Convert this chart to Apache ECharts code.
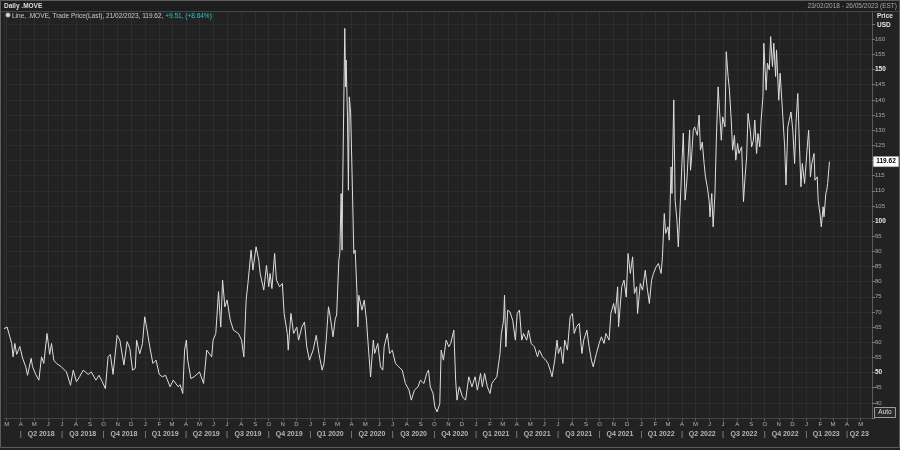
<!DOCTYPE html>
<html><head><meta charset="utf-8">
<script src="https://cdn.jsdelivr.net/npm/echarts@6/dist/echarts.min.js"></script>
<style>html,body{margin:0;padding:0;background:#222;}#c{width:900px;height:450px;}</style>
</head><body><div id="c"></div>
<script>
const dates = ['2018-02-23','2018-03-02','2018-03-12','2018-03-15','2018-03-19','2018-03-23','2018-03-30','2018-04-05','2018-04-12','2018-04-16','2018-04-24','2018-04-27','2018-05-04','2018-05-11','2018-05-17','2018-05-22','2018-05-29','2018-06-04','2018-06-08','2018-06-13','2018-06-19','2018-06-29','2018-07-11','2018-07-20','2018-07-26','2018-08-02','2018-08-09','2018-08-17','2018-08-28','2018-09-04','2018-09-14','2018-09-21','2018-09-28','2018-10-05','2018-10-11','2018-10-16','2018-10-22','2018-10-31','2018-11-06','2018-11-15','2018-11-22','2018-11-28','2018-12-04','2018-12-10','2018-12-13','2018-12-20','2018-12-26','2018-12-31','2019-01-04','2019-01-11','2019-01-18','2019-01-25','2019-02-01','2019-02-08','2019-02-15','2019-02-25','2019-03-04','2019-03-15','2019-03-19','2019-03-25','2019-03-29','2019-04-02','2019-04-05','2019-04-12','2019-04-19','2019-05-01','2019-05-10','2019-05-17','2019-05-23','2019-05-28','2019-05-31','2019-06-06','2019-06-12','2019-06-17','2019-06-21','2019-06-26','2019-07-01','2019-07-08','2019-07-15','2019-07-26','2019-08-02','2019-08-07','2019-08-12','2019-08-16','2019-08-23','2019-08-27','2019-09-03','2019-09-09','2019-09-12','2019-09-20','2019-09-26','2019-10-01','2019-10-04','2019-10-08','2019-10-14','2019-10-18','2019-10-25','2019-10-31','2019-11-04','2019-11-11','2019-11-13','2019-11-19','2019-11-25','2019-12-02','2019-12-06','2019-12-13','2019-12-19','2019-12-24','2019-12-30','2020-01-07','2020-01-14','2020-01-20','2020-01-27','2020-01-31','2020-02-05','2020-02-10','2020-02-14','2020-02-20','2020-02-25','2020-02-28','2020-03-04','2020-03-06','2020-03-09','2020-03-11','2020-03-12','2020-03-17','2020-03-19','2020-03-20','2020-03-23','2020-03-25','2020-03-27','2020-03-30','2020-04-02','2020-04-06','2020-04-09','2020-04-13','2020-04-15','2020-04-17','2020-04-24','2020-04-29','2020-05-04','2020-05-07','2020-05-13','2020-05-19','2020-05-22','2020-05-29','2020-06-04','2020-06-09','2020-06-12','2020-06-19','2020-06-24','2020-06-30','2020-07-07','2020-07-14','2020-07-22','2020-07-29','2020-08-06','2020-08-11','2020-08-18','2020-08-26','2020-08-31','2020-09-08','2020-09-14','2020-09-18','2020-09-22','2020-09-28','2020-10-02','2020-10-07','2020-10-13','2020-10-16','2020-10-21','2020-10-27','2020-11-02','2020-11-06','2020-11-13','2020-11-17','2020-11-20','2020-11-25','2020-12-02','2020-12-09','2020-12-16','2020-12-23','2020-12-30','2021-01-04','2021-01-11','2021-01-15','2021-01-20','2021-01-26','2021-02-01','2021-02-05','2021-02-10','2021-02-16','2021-02-23','2021-02-26','2021-03-03','2021-03-05','2021-03-08','2021-03-12','2021-03-17','2021-03-23','2021-03-29','2021-04-02','2021-04-07','2021-04-12','2021-04-16','2021-04-23','2021-04-27','2021-05-03','2021-05-10','2021-05-17','2021-05-21','2021-05-28','2021-06-04','2021-06-09','2021-06-14','2021-06-18','2021-06-24','2021-06-29','2021-07-02','2021-07-07','2021-07-12','2021-07-16','2021-07-22','2021-07-28','2021-08-02','2021-08-06','2021-08-11','2021-08-17','2021-08-23','2021-08-27','2021-09-03','2021-09-08','2021-09-13','2021-09-17','2021-09-24','2021-09-30','2021-10-05','2021-10-11','2021-10-15','2021-10-22','2021-10-26','2021-11-01','2021-11-05','2021-11-10','2021-11-12','2021-11-19','2021-11-24','2021-11-29','2021-12-03','2021-12-08','2021-12-13','2021-12-17','2021-12-22','2021-12-24','2021-12-30','2022-01-04','2022-01-10','2022-01-14','2022-01-19','2022-01-24','2022-01-28','2022-02-03','2022-02-08','2022-02-14','2022-02-17','2022-02-21','2022-02-24','2022-03-01','2022-03-04','2022-03-08','2022-03-10','2022-03-14','2022-03-17','2022-03-21','2022-03-24','2022-03-28','2022-04-01','2022-04-04','2022-04-08','2022-04-12','2022-04-18','2022-04-20','2022-04-22','2022-04-26','2022-04-29','2022-05-05','2022-05-09','2022-05-12','2022-05-16','2022-05-20','2022-05-23','2022-05-27','2022-05-31','2022-06-02','2022-06-06','2022-06-09','2022-06-13','2022-06-16','2022-06-20','2022-06-23','2022-06-27','2022-06-30','2022-07-05','2022-07-08','2022-07-12','2022-07-15','2022-07-19','2022-07-22','2022-07-26','2022-07-29','2022-08-02','2022-08-05','2022-08-11','2022-08-15','2022-08-18','2022-08-22','2022-08-25','2022-08-30','2022-09-02','2022-09-06','2022-09-09','2022-09-13','2022-09-16','2022-09-20','2022-09-23','2022-09-27','2022-09-29','2022-10-04','2022-10-07','2022-10-11','2022-10-14','2022-10-18','2022-10-21','2022-10-25','2022-10-27','2022-11-01','2022-11-04','2022-11-10','2022-11-14','2022-11-17','2022-11-21','2022-11-25','2022-11-28','2022-12-02','2022-12-06','2022-12-09','2022-12-13','2022-12-16','2022-12-20','2022-12-23','2022-12-28','2023-01-03','2023-01-06','2023-01-10','2023-01-13','2023-01-18','2023-01-20','2023-01-25','2023-01-27','2023-01-31','2023-02-03','2023-02-07','2023-02-09','2023-02-13','2023-02-15','2023-02-17','2023-02-21'];
const values = [64.5,65,59.6,55.2,59.6,56,58.6,54.8,51.9,49.1,54.7,52,49.4,47.5,55.2,53,62.9,56,59.6,54.1,53,52,50.2,45.8,50.8,47,48.6,50.8,49.4,50.2,47.5,49.1,47,44.7,55.2,56,49.4,62.3,60.7,52.5,60.2,58,50.8,51.4,60.7,56.2,59.6,68.4,65,58.6,53,54.1,49.4,48.6,49.1,45.3,47.5,45.3,46,43.1,57.4,60.7,54.1,48,48.6,50.2,46.4,57.4,56.2,55.2,60.7,62.9,76.7,65,80.5,71.7,73.9,67.3,64,62.9,60.7,55.2,73.9,79.4,90.4,83.8,91.5,87.1,82.7,77.2,85.4,78.3,82.7,77.7,89.3,80.5,78.3,79.4,69.5,62.9,57.4,69.5,62.9,65,60.7,65,66.7,58.5,54.1,57.4,62.3,56.2,50.8,53,60.7,71.7,68.4,61.8,67.8,69,87.1,89.3,109.1,90.4,106.9,163.6,144.3,153.2,134.4,110.2,141,135.7,116.8,89.3,90.4,76.1,65.1,75.5,70.6,73.9,67.3,60.7,48.6,60.7,56.3,59.6,51.9,50.8,58.5,62.9,56.3,57.4,53,51.9,50.8,46.4,44.2,40.9,44.2,45.3,47.5,46.4,49.7,50.8,45.3,43.1,38.7,37,39.8,57.4,54.1,60.7,58.5,59.6,64,47.5,40.9,45.3,42,40.9,48.6,45.3,48.6,44.2,49.7,45.3,49.7,45.3,43.1,46.4,47.5,48.6,56.3,62.9,67.3,75.5,58.5,70.6,70,67.3,60.7,69.5,70.6,60.7,62.9,60.7,64,59.6,58.5,55.2,57.4,55.2,54.1,53,50.8,48.6,54.1,60.7,56.3,58.5,53,60.7,57.4,68.4,69.5,62.9,65.1,66.2,56.3,60.7,64,58.5,54.1,51.9,56.3,59.6,61.8,59.6,62.9,60.7,69.5,72.8,69.5,78.3,65.1,78.3,80.5,74.9,89.3,82.7,88.2,76.1,78.3,69.5,79.4,77.2,83.8,78.3,72.8,80.5,82.7,84.9,86,82.7,88.2,102.5,95.9,98.1,93.7,117.9,109.1,140,106.9,100.3,91.5,104.7,119,129,106.9,113.5,130.1,116.8,120.1,130,131.1,128.3,135,123.4,126.1,119,114.6,111.3,106.9,101.4,109.1,98.1,109.1,126.7,144.3,136.6,126.7,134.4,131.1,155.9,147.7,143.2,133.3,123.4,128.3,120.1,125.6,122.3,124.5,106.4,113.5,121.2,135.5,130,124.5,126.7,133.3,122.3,128.9,124.5,133.3,141,158.7,143.2,152.1,149.9,160.9,151,158.7,147.7,156.5,139.9,148.8,134.4,124.5,111.9,131.1,131.1,136,130,119,132.2,142.1,127.8,111.3,119,112.4,124.5,130,114.6,119,122.3,113.5,114.6,106.9,102.5,98.1,104.7,101.4,109.1,110.2,112.4,119.62];
const monthLetters = ['J','F','M','A','M','J','J','A','S','O','N','D'];
const quarterLabels = ['Q2 2018','Q3 2018','Q4 2018','Q1 2019','Q2 2019','Q3 2019','Q4 2019','Q1 2020','Q2 2020','Q3 2020','Q4 2020','Q1 2021','Q2 2021','Q3 2021','Q4 2021','Q1 2022','Q2 2022','Q3 2022','Q4 2022','Q1 2023','Q2 23'];
const quarterMids = ['2018-05-16','2018-08-16','2018-11-15','2019-02-14','2019-05-16','2019-08-16','2019-11-15','2020-02-14','2020-05-16','2020-08-16','2020-11-15','2021-02-14','2021-05-16','2021-08-16','2021-11-15','2022-02-14','2022-05-16','2022-08-16','2022-11-15','2023-02-14','2023-04-28'];
const quarterStarts = ['2018-04-01','2018-07-01','2018-10-01','2019-01-01','2019-04-01','2019-07-01','2019-10-01','2020-01-01','2020-04-01','2020-07-01','2020-10-01','2021-01-01','2021-04-01','2021-07-01','2021-10-01','2022-01-01','2022-04-01','2022-07-01','2022-10-01','2023-01-01','2023-04-01'];
const axisStart = '2018-02-23', axisEnd = '2023-05-26';
const lastDate = '21/02/2023', lastValue = 119.62, change = '+9.51', changePct = '(+8.64%)';

const FONT = '"Liberation Sans", Arial, sans-serif';
const chart = echarts.init(document.getElementById('c'), null, {renderer:'canvas'});
const lineData = dates.map((d,i)=>[d, values[i]]);
const tMin = +echarts.time.parse(axisStart), tMax = +echarts.time.parse(axisEnd);

const option = {
  backgroundColor:'#222222',
  animation:false,
  textStyle:{fontFamily:FONT},
  grid:[
    {left:4, right:28, top:9, bottom:32, containLabel:false},
    {left:4, right:28, top:428, height:12, containLabel:false}
  ],
  xAxis:[
    {type:'time', gridIndex:0, min:tMin, max:tMax,
     minInterval:28*864e5, maxInterval:31*864e5,
     splitLine:{show:true, lineStyle:{color:'#2d2d2d', width:1}},
     axisLine:{show:true, lineStyle:{color:'#444'}},
     axisTick:{show:true, length:3, lineStyle:{color:'#555'}},
     axisLabel:{color:'#b5b5b5', fontSize:6, margin:3, fontFamily:FONT,
       formatter:function(v){const d=new Date(v); return d.getDate()===1 ? monthLetters[d.getMonth()] : '';}}
    },
    {type:'time', gridIndex:1, min:tMin, max:tMax, show:false}
  ],
  yAxis:[
    {type:'value', gridIndex:0, position:'right', min:35, max:170, interval:5,
     axisLine:{show:true, lineStyle:{color:'#5a5a5a'}},
     axisTick:{show:true, length:3, lineStyle:{color:'#777'}},
     splitLine:{show:true, lineStyle:{color:'#2d2d2d', width:1}},
     axisLabel:{color:'#a8a8a8', fontSize:6, margin:3, fontFamily:FONT,
       formatter:function(v){ if(v<40||v>160) return ''; return v%50===0 ? '{b|'+v+'}' : String(v); },
       rich:{b:{color:'#e8e8e8', fontWeight:'bold', fontSize:6.5, fontFamily:FONT}}}
    },
    {type:'value', gridIndex:1, min:0, max:1, show:false}
  ],
  series:[
    {type:'line', xAxisIndex:0, yAxisIndex:0, data:lineData, showSymbol:false, symbol:'none',
     lineStyle:{color:'#dedede', width:1}, sampling:null, z:5},
    {type:'scatter', xAxisIndex:1, yAxisIndex:1, symbolSize:1, itemStyle:{color:'rgba(0,0,0,0)'},
     data:quarterMids.map((d,i)=>[d,0.5,quarterLabels[i]]),
     label:{show:true, position:'inside', formatter:p=>p.value[2], color:'#d8d8d8', fontWeight:'bold', fontSize:7, fontFamily:FONT},
     emphasis:{disabled:true}, clip:false},
    {type:'scatter', xAxisIndex:1, yAxisIndex:1, symbolSize:1, itemStyle:{color:'rgba(0,0,0,0)'},
     data:quarterStarts.map(d=>[d,0.5]),
     label:{show:true, position:'inside', formatter:'|', color:'#bbbbbb', fontSize:8, fontFamily:FONT},
     emphasis:{disabled:true}, clip:false}
  ]
};
chart.setOption(option);

const p = chart.convertToPixel({xAxisIndex:0, yAxisIndex:0}, [axisEnd, lastValue]);
const legendText = 'Line, .MOVE, Trade Price(Last), ' + lastDate + ', ' + lastValue.toFixed(2) + ', ';
const w = (echarts.format && echarts.format.getTextRect) ? echarts.format.getTextRect(legendText, '6.5px '+FONT).width : 153;
chart.setOption({graphic:[
  {type:'rect', shape:{x:0, y:0, width:900, height:11}, style:{fill:'#1e1e1e'}, z:100},
  {type:'line', shape:{x1:0, y1:11.5, x2:900, y2:11.5}, style:{stroke:'#474747', lineWidth:1}, z:101},
  {type:'text', x:4, y:6, style:{text:'Daily .MOVE', fill:'#dcdcdc', font:'bold 6.5px '+FONT, textVerticalAlign:'middle'}, z:102},
  {type:'text', x:897, y:6, style:{text:'23/02/2018 - 26/05/2023 (EST)', fill:'#a8a8a8', font:'6.5px '+FONT, textAlign:'right', textVerticalAlign:'middle'}, z:102},
  {type:'circle', shape:{cx:8, cy:15, r:2.3}, style:{fill:'#cfd8e0', stroke:'#7a8a99', lineWidth:0.6}, z:102},
  {type:'text', x:12, y:16, style:{text:legendText, fill:'#cccccc', font:'6.5px '+FONT, textVerticalAlign:'middle'}, z:102},
  {type:'text', x:12+w, y:16, style:{text:change + ', ' + changePct, fill:'#33c4c4', font:'6.5px '+FONT, textVerticalAlign:'middle'}, z:102},
  {type:'text', x:877, y:16, style:{text:'Price', fill:'#e0e0e0', font:'bold 6.5px '+FONT, textVerticalAlign:'middle'}, z:102},
  {type:'text', x:877, y:25, style:{text:'USD', fill:'#e0e0e0', font:'bold 6.5px '+FONT, textVerticalAlign:'middle'}, z:102},
  {type:'rect', shape:{x:873.5, y:p[1]-5, width:25, height:10}, style:{fill:'#ffffff', stroke:'#cccccc', lineWidth:0.5}, z:102},
  {type:'text', x:886, y:p[1], style:{text:lastValue.toFixed(2), fill:'#000000', font:'bold 6.5px '+FONT, textAlign:'center', textVerticalAlign:'middle'}, z:103},
  {type:'rect', shape:{x:874.5, y:407.5, width:21, height:10}, style:{fill:'#2a2a2a', stroke:'#bbbbbb', lineWidth:0.8}, z:102},
  {type:'text', x:885, y:412.5, style:{text:'Auto', fill:'#dddddd', font:'6.5px '+FONT, textAlign:'center', textVerticalAlign:'middle'}, z:103},
  {type:'rect', shape:{x:0.5, y:0.5, width:899, height:447}, style:{fill:'none', stroke:'#5c5c5c', lineWidth:1}, z:104}
]});
</script>
</body></html>
